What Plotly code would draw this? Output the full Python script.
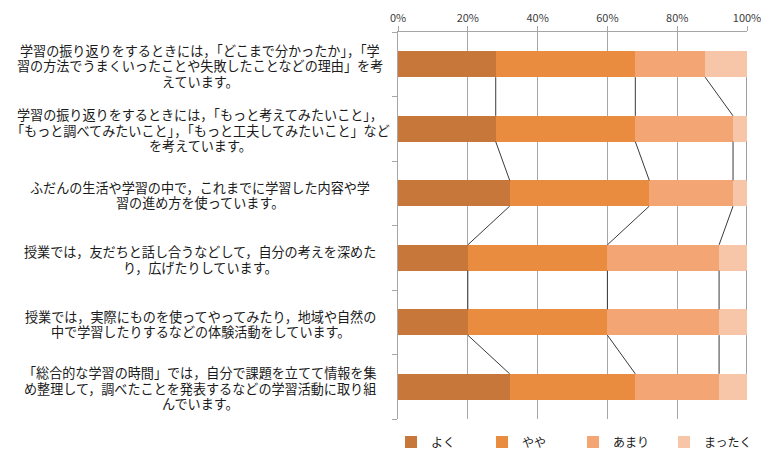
import plotly.graph_objects as go

categories = [
    "学習の振り返りをするときには，「どこまで分かったか」，「学<br>習の方法でうまくいったことや失敗したことなどの理由」を考<br>えています。",
    "学習の振り返りをするときには，「もっと考えてみたいこと」，<br>「もっと調べてみたいこと」，「もっと工夫してみたいこと」など<br>を考えています。",
    "ふだんの生活や学習の中で，これまでに学習した内容や学<br>習の進め方を使っています。",
    "授業では，友だちと話し合うなどして，自分の考えを深めた<br>り，広げたりしています。",
    "授業では，実際にものを使ってやってみたり，地域や自然の<br>中で学習したりするなどの体験活動をしています。",
    "「総合的な学習の時間」では，自分で課題を立てて情報を集<br>め整理して，調べたことを発表するなどの学習活動に取り組<br>んでいます。",
]
series_names = ["よく", "やや", "あまり", "まったく"]
yoku = [28, 28, 32, 20, 20, 32]
yaya = [40, 40, 40, 40, 40, 36]
amari = [20, 28, 24, 32, 32, 24]
mattaku = [12, 4, 4, 8, 8, 8]
colors = ["#C8773A", "#E98C40", "#F3A673", "#F7C6A8"]
tick_vals = [0, 20, 40, 60, 80, 100]
tick_text = ["0%", "20%", "40%", "60%", "80%", "100%"]

series = [yoku, yaya, amari, mattaku]
pos = list(range(len(categories)))
bar_w = 0.4

fig = go.Figure()
for name, vals, col in zip(series_names, series, colors):
    fig.add_trace(go.Bar(
        x=vals, y=pos, orientation="h", name=name, width=bar_w,
        marker=dict(color=col, line=dict(width=0)),
    ))

# series lines connecting cumulative boundaries
cum = []
for i in pos:
    s = 0
    row = []
    for vals in series:
        s += vals[i]
        row.append(s)
    cum.append(row)
lx, ly = [], []
for k in range(len(series)):
    for i in pos[:-1]:
        lx += [cum[i][k], cum[i + 1][k], None]
        ly += [i + bar_w / 2, i + 1 - bar_w / 2, None]
fig.add_trace(go.Scatter(x=lx, y=ly, mode="lines", line=dict(color="#3a3a3a", width=1),
                         showlegend=False, hoverinfo="skip"))

line_h = 15.5
for i, c in enumerate(categories):
    lines = c.split("<br>")
    n = len(lines)
    for j, ln in enumerate(lines):
        fig.add_annotation(text=ln, xref="paper", yref="y", x=-0.567, y=i,
                           xanchor="center", yanchor="middle", align="center",
                           yshift=((n - 1) / 2 - j) * line_h - 1.5,
                           showarrow=False, font=dict(size=13.1, color="#1a1a1a"))

fig.update_layout(
    width=761, height=452,
    margin=dict(l=398, r=14, t=32, b=33, autoexpand=False),
    barmode="stack",
    paper_bgcolor="white", plot_bgcolor="white",
    font=dict(family="Noto Sans CJK JP", size=12, color="#1a1a1a"),
    showlegend=True,
    legend=dict(orientation="h", x=-0.02, y=-0.022, xanchor="left", yanchor="top",
                entrywidth=46, entrywidthmode="pixels", traceorder="normal",
                font=dict(size=12), itemwidth=30),
    xaxis=dict(side="top", range=[0, 100], tickvals=tick_vals, ticktext=tick_text,
               showgrid=True, gridcolor="#a6a6a6", gridwidth=1, zeroline=False,
               showline=True, linecolor="#a6a6a6", ticks="outside", ticklen=5,
               tickcolor="#a6a6a6", tickfont=dict(size=11, color="#404040"),
               ticklabeloverflow="allow", fixedrange=True),
    yaxis=dict(range=[5.5, -0.5], tickvals=[-0.5, 0.5, 1.5, 2.5, 3.5, 4.5, 5.5],
               showticklabels=False, ticks="outside", ticklen=5, tickcolor="#a6a6a6",
               showgrid=False, zeroline=False, showline=True, linecolor="#a6a6a6"),
)

fig.write_html("out.html")
